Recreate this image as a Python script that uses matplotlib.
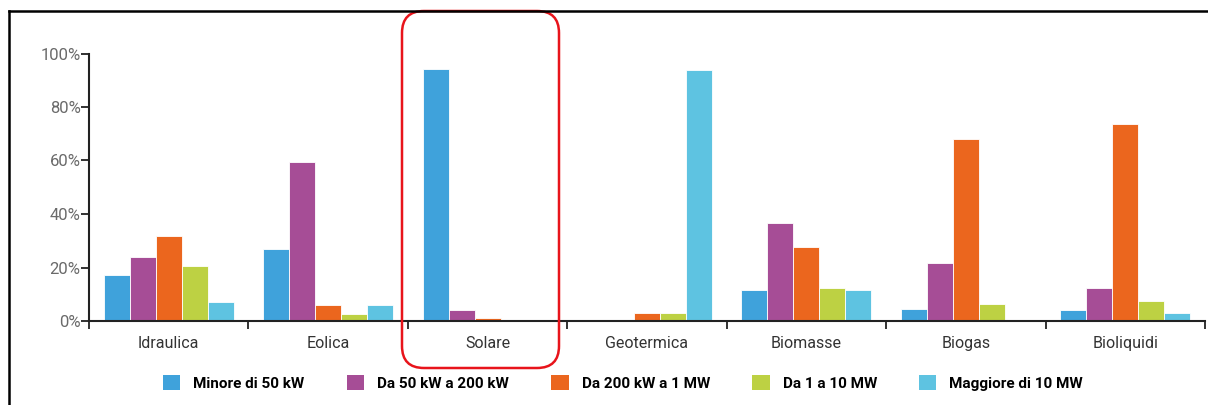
"""Share of installed capacity by plant size class for each renewable source."""

import matplotlib.pyplot as plt
import numpy as np
from matplotlib.lines import Line2D
from matplotlib.patches import FancyBboxPatch, Patch

categories = ["Idraulica", "Eolica", "Solare", "Geotermica", "Biomasse", "Biogas", "Bioliquidi"]
size_classes = ["Minore di 50 kW", "Da 50 kW a 200 kW", "Da 200 kW a 1 MW", "Da 1 a 10 MW", "Maggiore di 10 MW"]
minore_50kw = [17.2, 27.0, 94.3, 0.0, 11.7, 4.4, 4.0]
da_50_a_200kw = [23.8, 59.3, 4.0, 0.0, 36.6, 21.6, 12.3]
da_200kw_a_1mw = [31.7, 5.9, 1.1, 2.9, 27.5, 68.0, 73.6]
da_1_a_10mw = [20.6, 2.6, 0.3, 2.9, 12.2, 6.4, 7.6]
maggiore_10mw = [7.1, 5.9, 0.3, 93.8, 11.7, 0.3, 2.9]
colors = ["#3FA2DB", "#A64D96", "#EB661E", "#BDD143", "#5EC3E1"]


def main() -> None:
    plt.rcParams["font.family"] = ["Roboto", "DejaVu Sans"]
    fig = plt.figure(figsize=(12.08, 4.05), dpi=100)
    ax = fig.add_axes([89 / 1208, 1 - 321 / 405, 1116 / 1208, (321 - 53.5) / 405])

    series = [minore_50kw, da_50_a_200kw, da_200kw_a_1mw, da_1_a_10mw, maggiore_10mw]
    x = np.arange(len(categories))
    width = 0.163
    for i, (values, color) in enumerate(zip(series, colors)):
        ax.bar(x + (i - 2) * width, values, width, color=color, edgecolor="white", linewidth=0.6)

    ax.set_xlim(-0.5, len(categories) - 0.5)
    ax.set_ylim(0, 100)
    ax.set_yticks(range(0, 101, 20))
    ax.set_yticklabels([f"{v}%" for v in range(0, 101, 20)], color="#6a6a6a", fontsize=12)
    ax.set_xticks(x)
    ax.set_xticklabels(categories, color="#333333", fontsize=11.5)
    ax.set_xticks(np.arange(-0.5, len(categories)), minor=True)
    ax.tick_params(axis="x", which="major", length=0, pad=11)
    ax.tick_params(axis="x", which="minor", length=6, width=1.3, color="#222222")
    ax.tick_params(axis="y", length=6, width=1.3, pad=0, color="#222222")
    for side in ("top", "right"):
        ax.spines[side].set_visible(False)
    for side in ("left", "bottom"):
        ax.spines[side].set_linewidth(1.5)
        ax.spines[side].set_color("#222222")

    handles = [Patch(facecolor=c, edgecolor="none") for c in colors]
    fig.legend(handles, size_classes, loc="center", bbox_to_anchor=(623 / 1208, 1 - 383 / 405), ncol=5,
               frameon=False, prop={"size": 11, "weight": "bold"}, handlelength=1.15, handleheight=1.15,
               handletextpad=0.85, columnspacing=2.75)

    # page frame around the chart
    fig.add_artist(Line2D([9 / 1208, 9 / 1208], [0, 1 - 11 / 405], color="black", linewidth=1.8))
    fig.add_artist(Line2D([9 / 1208, 1], [1 - 11 / 405, 1 - 11 / 405], color="black", linewidth=1.8))

    # red highlight around Solare
    fig.add_artist(FancyBboxPatch((4.02, 0.37), 1.57, 3.57, boxstyle="round,pad=0,rounding_size=0.22",
                                  transform=fig.dpi_scale_trans, facecolor="none", edgecolor="#E8141B",
                                  linewidth=1.8))

    fig.savefig("out.png", dpi=100)


if __name__ == "__main__":
    main()
